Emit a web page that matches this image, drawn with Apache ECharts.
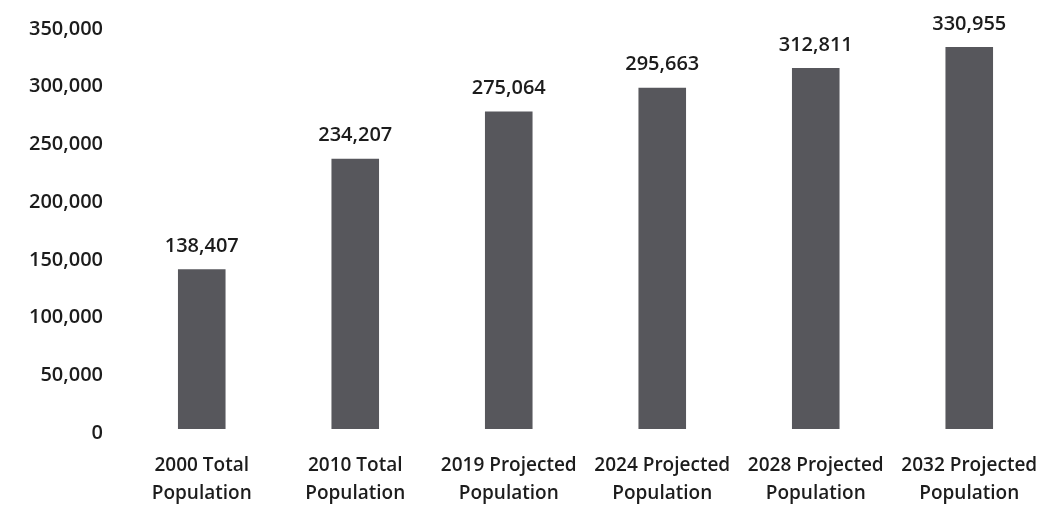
<!DOCTYPE html>
<html>
<head>
<meta charset="utf-8">
<script src="https://cdn.jsdelivr.net/npm/echarts@6/dist/echarts.min.js"></script>
<style>
  html, body { margin: 0; padding: 0; background: #ffffff; }
  #chart { width: 1046px; height: 508px; }
</style>
</head>
<body>
<div id="chart"></div>
<script>
// Population totals and projections
const categories = [
  '2000 Total\nPopulation',
  '2010 Total\nPopulation',
  '2019 Projected\nPopulation',
  '2024 Projected\nPopulation',
  '2028 Projected\nPopulation',
  '2032 Projected\nPopulation'
];
const population = [138407, 234207, 275064, 295663, 312811, 330955];
const yTicks = { min: 0, max: 350000, interval: 50000 };

const fmt = v => v.toLocaleString('en-US');
const fontFamily = '"Open Sans", "Noto Sans", sans-serif';
const textColor = '#1c1c1c';

const chart = echarts.init(document.getElementById('chart'));
chart.setOption({
  animation: false,
  grid: { left: 125, right: 0, top: 25, bottom: 77 },
  xAxis: {
    type: 'category',
    data: categories,
    axisLine: { show: false },
    axisTick: { show: false },
    axisLabel: {
      interval: 0,
      margin: 23,
      color: textColor,
      fontFamily: fontFamily,
      fontWeight: 600,
      fontSize: 19,
      lineHeight: 28
    }
  },
  yAxis: {
    type: 'value',
    min: yTicks.min,
    max: yTicks.max,
    interval: yTicks.interval,
    axisLine: { show: false },
    axisTick: { show: false },
    splitLine: { show: false },
    axisLabel: {
      margin: 22,
      verticalAlign: 'top',
      lineHeight: 8,
      color: textColor,
      fontFamily: fontFamily,
      fontWeight: 600,
      fontSize: 20,
      formatter: v => fmt(v)
    }
  },
  series: [{
    type: 'bar',
    data: population,
    barWidth: '31%',
    itemStyle: { color: '#57575c' },
    label: {
      show: true,
      position: 'top',
      distance: 13,
      color: textColor,
      fontFamily: fontFamily,
      fontWeight: 600,
      fontSize: 20,
      formatter: p => fmt(p.value)
    }
  }]
});
</script>
</body>
</html>
